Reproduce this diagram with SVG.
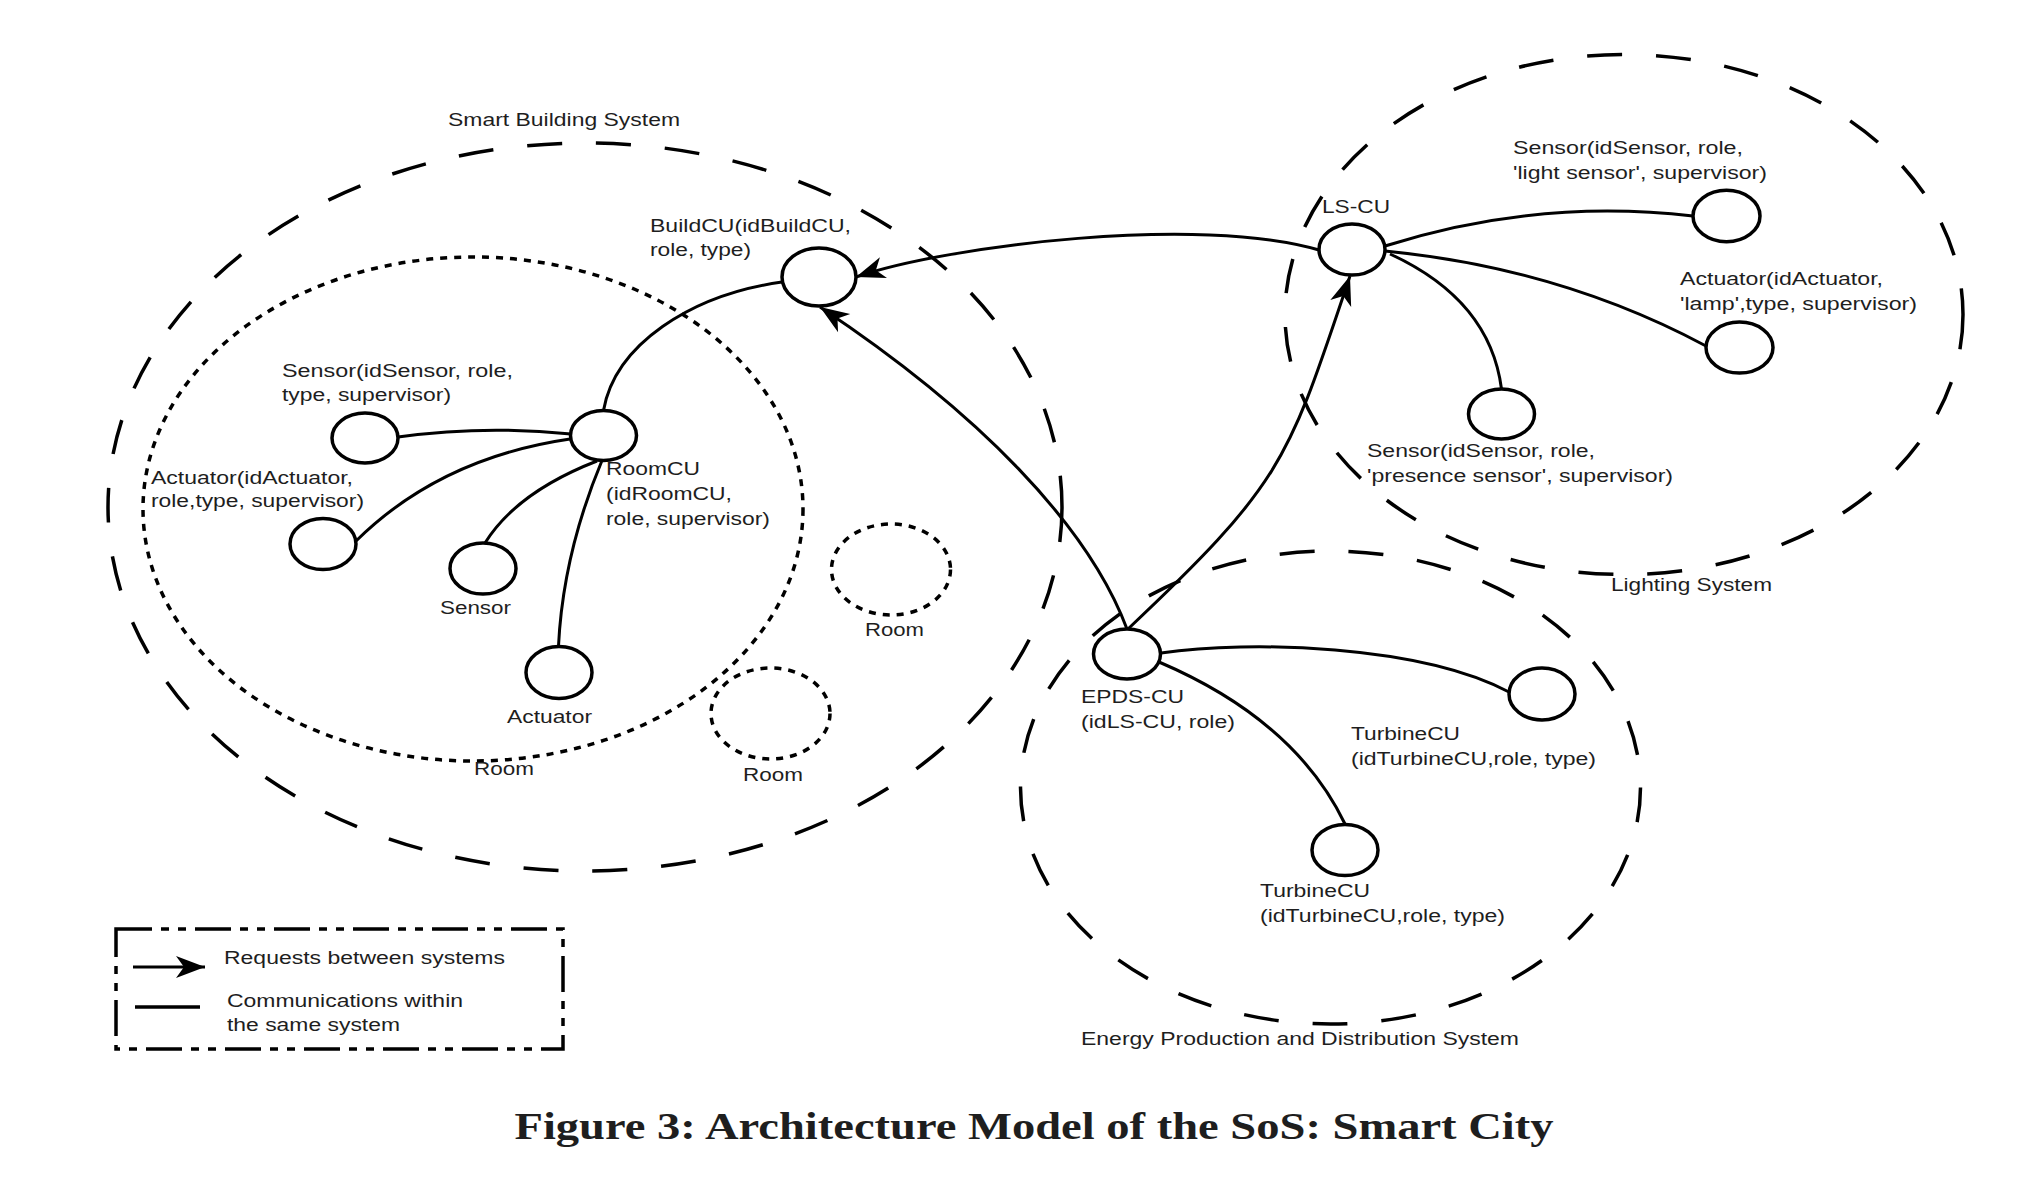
<svg xmlns="http://www.w3.org/2000/svg" width="2022" height="1184" viewBox="0 0 2022 1184">
<style>
  .bg{fill:#ffffff}
  .node{fill:#ffffff;stroke:#000;stroke-width:3.5}
  .sys{fill:none;stroke:#000;stroke-width:3.5;stroke-dasharray:35 34}
  .room{fill:none;stroke:#000;stroke-width:3.5;stroke-dasharray:7 7}
  .conn{fill:none;stroke:#000;stroke-width:3}
  .req{fill:none;stroke:#000;stroke-width:3;marker-end:url(#arr)}
  .lbl{font-family:"Liberation Sans",Arial,sans-serif;font-size:17.5px;fill:#1e1e1e}
  .cap{font-family:"Liberation Serif","Times New Roman",serif;font-size:37px;font-weight:bold;fill:#1e1e1e}
  .legend{fill:none;stroke:#000;stroke-width:3.5;stroke-dasharray:36 9 8 9 8 9}
</style>
<defs>
  <marker id="arr" markerUnits="userSpaceOnUse" markerWidth="34" markerHeight="28" viewBox="-31 -13 34 26" refX="0" refY="0" orient="auto">
    <path d="M0,0 L-29,-11 L-21,0 L-29,11 Z" fill="#000"/>
  </marker>
</defs>
<rect class="bg" x="0" y="0" width="2022" height="1184"/>

<!-- system boundaries -->
<g id="smart-building-system">
  <ellipse class="sys" cx="585" cy="507" rx="477" ry="364"/>
  <text class="lbl" x="448" y="125.5" textLength="232" lengthAdjust="spacingAndGlyphs">Smart Building System</text>
</g>
<g id="lighting-system">
  <ellipse class="sys" cx="1624" cy="314.5" rx="339" ry="260"/>
  <text class="lbl" x="1611" y="591" textLength="161" lengthAdjust="spacingAndGlyphs">Lighting System</text>
</g>
<g id="energy-system">
  <ellipse class="sys" cx="1330.5" cy="787.5" rx="310" ry="236.5"/>
  <text class="lbl" x="1081" y="1045" textLength="438" lengthAdjust="spacingAndGlyphs">Energy Production and Distribution System</text>
</g>

<!-- rooms -->
<g id="room-main">
  <ellipse class="room" cx="473" cy="509" rx="330" ry="252"/>
  <text class="lbl" x="474" y="775" textLength="60" lengthAdjust="spacingAndGlyphs">Room</text>
</g>
<g id="room-2">
  <ellipse class="room" cx="891" cy="569.5" rx="59.5" ry="45.5"/>
  <text class="lbl" x="865" y="636" textLength="59" lengthAdjust="spacingAndGlyphs">Room</text>
</g>
<g id="room-3">
  <ellipse class="room" cx="770.5" cy="713.5" rx="59.5" ry="45.5"/>
  <text class="lbl" x="743" y="781" textLength="60" lengthAdjust="spacingAndGlyphs">Room</text>
</g>

<!-- connectors -->
<g id="connectors">
  <path class="conn" d="M782 282 C690 295 615 345 603.5 410.5"/>
  <path class="conn" d="M398 437 Q483 425 571 434"/>
  <path class="conn" d="M356 541 Q440 458 570 439"/>
  <path class="conn" d="M485 543 Q517 492 597 461"/>
  <path class="conn" d="M602 460.5 Q563 554 558.5 646"/>
  <path class="req" d="M1319 250 C1200 215 950 245 856 277"/>
  <path class="req" d="M1127 629 C1088 525 978 412 820 307"/>
  <path class="req" d="M1128 629 C1285 481 1288 460 1350 276"/>
  <path class="conn" d="M1385 246 Q1535 198 1693 216"/>
  <path class="conn" d="M1385 251 Q1560 268 1706 346"/>
  <path class="conn" d="M1390 254 Q1490 300 1501.5 389"/>
  <path class="conn" d="M1161 653 C1250 640 1420 645 1509 692"/>
  <path class="conn" d="M1159 662 Q1295 720 1345 824"/>
</g>

<!-- nodes -->
<g id="buildcu">
  <ellipse class="node" cx="819" cy="277" rx="37" ry="29"/>
  <text class="lbl" x="650" y="231.5" textLength="201" lengthAdjust="spacingAndGlyphs">BuildCU(idBuildCU,</text>
  <text class="lbl" x="650" y="255.5" textLength="101" lengthAdjust="spacingAndGlyphs">role, type)</text>
</g>
<g id="roomcu">
  <ellipse class="node" cx="603.5" cy="435.5" rx="33" ry="25"/>
  <text class="lbl" x="606" y="474.5" textLength="94" lengthAdjust="spacingAndGlyphs">RoomCU</text>
  <text class="lbl" x="606" y="500" textLength="126" lengthAdjust="spacingAndGlyphs">(idRoomCU,</text>
  <text class="lbl" x="606" y="525" textLength="164" lengthAdjust="spacingAndGlyphs">role, supervisor)</text>
</g>
<g id="room-sensor">
  <ellipse class="node" cx="365" cy="438" rx="33" ry="25"/>
  <text class="lbl" x="282" y="377" textLength="231" lengthAdjust="spacingAndGlyphs">Sensor(idSensor, role,</text>
  <text class="lbl" x="282" y="401" textLength="169" lengthAdjust="spacingAndGlyphs">type, supervisor)</text>
</g>
<g id="room-actuator">
  <ellipse class="node" cx="323" cy="544" rx="33" ry="25.5"/>
  <text class="lbl" x="151" y="484" textLength="202" lengthAdjust="spacingAndGlyphs">Actuator(idActuator,</text>
  <text class="lbl" x="151" y="507" textLength="213" lengthAdjust="spacingAndGlyphs">role,type, supervisor)</text>
</g>
<g id="sensor">
  <ellipse class="node" cx="483" cy="568.5" rx="33" ry="25.5"/>
  <text class="lbl" x="440" y="614" textLength="71" lengthAdjust="spacingAndGlyphs">Sensor</text>
</g>
<g id="actuator">
  <ellipse class="node" cx="559" cy="672.5" rx="33" ry="26"/>
  <text class="lbl" x="507" y="722.5" textLength="85" lengthAdjust="spacingAndGlyphs">Actuator</text>
</g>
<g id="lscu">
  <ellipse class="node" cx="1352" cy="249.5" rx="33" ry="25.5"/>
  <text class="lbl" x="1322" y="213" textLength="68" lengthAdjust="spacingAndGlyphs">LS-CU</text>
</g>
<g id="light-sensor">
  <ellipse class="node" cx="1726.5" cy="216" rx="33.5" ry="25.7"/>
  <text class="lbl" x="1513" y="154" textLength="230" lengthAdjust="spacingAndGlyphs">Sensor(idSensor, role,</text>
  <text class="lbl" x="1513" y="179" textLength="254" lengthAdjust="spacingAndGlyphs">'light sensor', supervisor)</text>
</g>
<g id="lamp-actuator">
  <ellipse class="node" cx="1739.5" cy="347.6" rx="33.5" ry="25.5"/>
  <text class="lbl" x="1680" y="285" textLength="203" lengthAdjust="spacingAndGlyphs">Actuator(idActuator,</text>
  <text class="lbl" x="1680" y="310" textLength="237" lengthAdjust="spacingAndGlyphs">'lamp',type, supervisor)</text>
</g>
<g id="presence-sensor">
  <ellipse class="node" cx="1501.5" cy="414" rx="33" ry="25"/>
  <text class="lbl" x="1367" y="457" textLength="228" lengthAdjust="spacingAndGlyphs">Sensor(idSensor, role,</text>
  <text class="lbl" x="1367" y="482" textLength="306" lengthAdjust="spacingAndGlyphs">'presence sensor', supervisor)</text>
</g>
<g id="epdscu">
  <ellipse class="node" cx="1127" cy="654" rx="33.5" ry="25"/>
  <text class="lbl" x="1081" y="703" textLength="103" lengthAdjust="spacingAndGlyphs">EPDS-CU</text>
  <text class="lbl" x="1081" y="727.5" textLength="154" lengthAdjust="spacingAndGlyphs">(idLS-CU, role)</text>
</g>
<g id="turbine-1">
  <ellipse class="node" cx="1542" cy="694" rx="33" ry="26"/>
  <text class="lbl" x="1351" y="740" textLength="109" lengthAdjust="spacingAndGlyphs">TurbineCU</text>
  <text class="lbl" x="1351" y="765" textLength="245" lengthAdjust="spacingAndGlyphs">(idTurbineCU,role, type)</text>
</g>
<g id="turbine-2">
  <ellipse class="node" cx="1345" cy="850" rx="33" ry="25.6"/>
  <text class="lbl" x="1260" y="897" textLength="110" lengthAdjust="spacingAndGlyphs">TurbineCU</text>
  <text class="lbl" x="1260" y="921.5" textLength="245" lengthAdjust="spacingAndGlyphs">(idTurbineCU,role, type)</text>
</g>

<!-- legend -->
<g id="legend">
  <rect class="legend" x="116" y="929" width="447" height="120"/>
  <path class="req" d="M133 967 L205 967"/>
  <text class="lbl" x="224" y="964" textLength="281" lengthAdjust="spacingAndGlyphs">Requests between systems</text>
  <path class="conn" d="M135 1007 L200 1007" style="stroke-width:3.4"/>
  <text class="lbl" x="227" y="1006.5" textLength="236" lengthAdjust="spacingAndGlyphs">Communications within</text>
  <text class="lbl" x="227" y="1031" textLength="173" lengthAdjust="spacingAndGlyphs">the same system</text>
</g>

<!-- caption -->
<g id="caption">
  <text class="cap" x="514.5" y="1139" textLength="1039" lengthAdjust="spacingAndGlyphs">Figure 3: Architecture Model of the SoS: Smart City</text>
</g>
</svg>
